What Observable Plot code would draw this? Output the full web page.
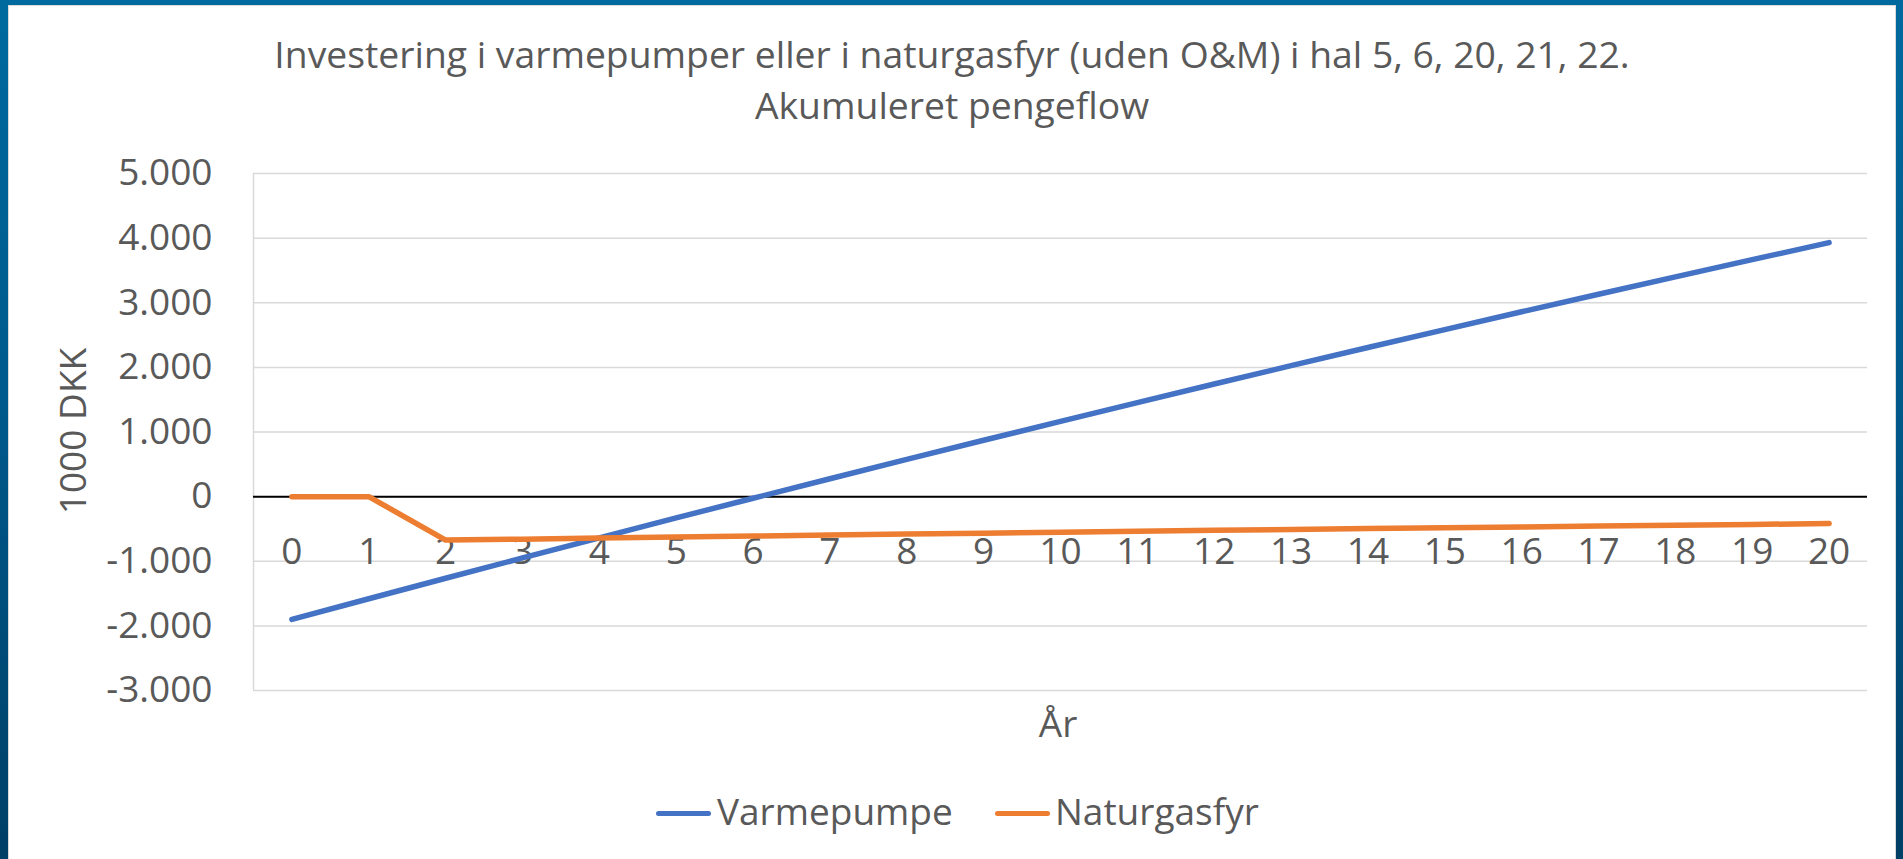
<!DOCTYPE html>
<html>
<head>
<meta charset="utf-8">
<script src="https://cdn.jsdelivr.net/npm/d3@7"></script>
<script src="https://cdn.jsdelivr.net/npm/@observablehq/plot@0.6"></script>
<style>
  html, body { margin: 0; padding: 0; }
  body {
    width: 1903px; height: 859px; overflow: hidden; position: relative;
    background: linear-gradient(to bottom, #006a9f 0%, #00588a 50%, #003f66 100%);
    font-family: "Open Sans", sans-serif; color: #595959;
  }
  #card {
    position: absolute; left: 8px; top: 5px; width: 1888px; height: 860px;
    background: #ffffff; border: 1px solid #d9d9d9; box-sizing: border-box;
  }
  .t { position: absolute; white-space: nowrap; font-size: 37px; line-height: 37px; color: #595959; }
  .center { transform: translateX(-50%); }
  .title { font-size: 37.3px; }
  #chart { position: absolute; left: 0; top: 0; }
  .sw { position: absolute; height: 5px; border-radius: 3px; }
</style>
</head>
<body>
<div id="card"></div>
<div id="chart"></div>
<div class="t center title" id="title1" style="left:952px; top:35px;"></div>
<div class="t center title" id="title2" style="left:952px; top:86px;"></div>
<div class="t" id="ytitle" style="left:71px; top:431px; transform: translate(-50%,-50%) rotate(-90deg);"></div>
<div class="t center" id="xtitle" style="left:1058px; top:704px;"></div>
<div id="legend"></div>
<script>
// ---- data ----
const years = [0, 1, 2, 3, 4, 5, 6, 7, 8, 9, 10, 11, 12, 13, 14, 15, 16, 17, 18, 19, 20];
const varmepumpe = [-1900, -1580, -1263, -949, -638, -330, -25, 277, 576, 872, 1165, 1455, 1742, 2026, 2307, 2585, 2860, 3132, 3401, 3667, 3930];
const naturgasfyr = [0, 0, -673, -658, -642, -626, -610, -595, -580, -565, -550, -536, -522, -508, -495, -482, -469, -456, -443, -430, -417];
const seriesNames = ["Varmepumpe", "Naturgasfyr"];
const seriesColors = ["#4472C4", "#ED7D31"];
const yTicks = [-3000, -2000, -1000, 0, 1000, 2000, 3000, 4000, 5000];
const titleLines = ["Investering i varmepumper eller i naturgasfyr (uden O&M) i hal 5, 6, 20, 21, 22.", "Akumuleret pengeflow"];
const yLabel = "1000 DKK";
const xLabel = "År";

// ---- texts ----
document.getElementById("title1").textContent = titleLines[0];
document.getElementById("title2").textContent = titleLines[1];
document.getElementById("ytitle").textContent = yLabel;
document.getElementById("xtitle").textContent = xLabel;

const table = [];
years.forEach((yr, i) => {
  table.push({year: yr, value: varmepumpe[i], series: seriesNames[0]});
});
years.forEach((yr, i) => {
  table.push({year: yr, value: naturgasfyr[i], series: seriesNames[1]});
});

const da = d3.formatLocale({decimal: ",", thousands: ".", grouping: [3], currency: ["", "kr"], minus: "-"});
const fmt = da.format(",d");

const xDomain = [years[0] - 0.5, years[years.length - 1] + 0.5];
const yDomain = [yTicks[0], yTicks[yTicks.length - 1]];

const chart = Plot.plot({
  width: 1903,
  height: 859,
  marginLeft: 253,
  marginRight: 36,
  marginTop: 173,
  marginBottom: 169,
  style: {background: "transparent", fontFamily: "'Open Sans', sans-serif", overflow: "visible"},
  x: {domain: xDomain, axis: null},
  y: {domain: yDomain, ticks: yTicks, axis: null},
  color: {domain: seriesNames, range: seriesColors},
  marks: [
    Plot.gridY(yTicks, {stroke: "#d9d9d9", strokeOpacity: 1, strokeWidth: 1.5}),
    Plot.ruleX([xDomain[0]], {y1: yDomain[0], y2: yDomain[1], stroke: "#d9d9d9", strokeWidth: 1.5}),
    Plot.axisY(yTicks, {tickSize: 0, tickPadding: 41, tickFormat: fmt, fontSize: 37, fill: "#595959", label: null}),
    Plot.ruleY([0], {stroke: "#000000", strokeWidth: 2}),
    Plot.text(years, {x: d => d, y: () => 0, text: d => String(d), dy: 56, fontSize: 37, fill: "#595959"}),
    Plot.line(table.filter(d => d.series === seriesNames[0]), {x: "year", y: "value", stroke: "series", strokeWidth: 5.5, strokeLinecap: "round", strokeLinejoin: "round"}),
    Plot.line(table.filter(d => d.series === seriesNames[1]), {x: "year", y: "value", stroke: "series", strokeWidth: 5.5, strokeLinecap: "round", strokeLinejoin: "round"})
  ]
});
document.getElementById("chart").appendChild(chart);

// ---- legend ----
const legend = document.getElementById("legend");
const legendPos = [{sw: 656, tx: 717}, {sw: 995, tx: 1055}];
seriesNames.forEach((name, i) => {
  const sw = document.createElement("div");
  sw.className = "sw";
  sw.style.left = legendPos[i].sw + "px";
  sw.style.top = "811px";
  sw.style.width = "55px";
  sw.style.background = seriesColors[i];
  legend.appendChild(sw);
  const tx = document.createElement("div");
  tx.className = "t";
  tx.style.left = legendPos[i].tx + "px";
  tx.style.top = "792px";
  tx.textContent = name;
  legend.appendChild(tx);
});
</script>
</body>
</html>
